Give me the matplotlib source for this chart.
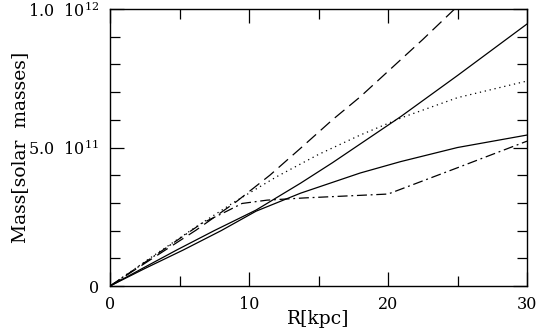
import numpy as np
import matplotlib
matplotlib.use("Agg")
import matplotlib.pyplot as plt
from matplotlib.ticker import MultipleLocator

plt.rcParams['font.family'] = 'DejaVu Serif'
plt.rcParams['mathtext.fontset'] = 'dejavuserif'

# radius [kpc] and mass [1e11 solar masses]
r_dash = [0, 3, 6.2, 9.1, 11.5, 13.7, 16, 18, 20, 22.5, 25]
m_dash = [0, 0.98, 2.02, 3.05, 4.0, 4.97, 6.0, 6.83, 7.75, 8.9, 10.1]

r_solid1 = [0, 2.5, 4.8, 7.5, 10.5, 13.7, 16, 20.9, 25, 30]
m_solid1 = [0, 0.68, 1.3, 2.0, 2.74, 3.71, 4.45, 6.11, 7.6, 9.46]

r_solid2 = [0, 2.5, 5.27, 8, 10.5, 13.7, 18, 20.9, 25, 30]
m_solid2 = [0, 0.63, 1.3, 2.0, 2.7, 3.35, 4.08, 4.49, 5.0, 5.45]

r_dot = [0, 3, 6.2, 9, 12, 15, 18, 21, 25, 30]
m_dot = [0, 1.05, 2.14, 3.05, 3.95, 4.75, 5.45, 6.08, 6.8, 7.4]

r_dashdot = [0, 3, 6.6, 8.4, 9.5, 11.3, 14, 20, 25, 30]
m_dashdot = [0, 1.02, 2.26, 2.7, 2.98, 3.1, 3.18, 3.32, 4.27, 5.23]

fig = plt.figure(figsize=(5.38, 3.34), dpi=100)
ax = fig.add_axes([0.2045, 0.1437, 0.7751, 0.8293])

lw = 0.9
ax.plot(r_dash, m_dash, color='black', lw=lw, dashes=(10, 5))
ax.plot(r_solid1, m_solid1, color='black', lw=lw)
ax.plot(r_solid2, m_solid2, color='black', lw=lw)
ax.plot(r_dot, m_dot, color='black', lw=lw, dashes=(1, 3))
ax.plot(r_dashdot, m_dashdot, color='black', lw=lw, dashes=(8, 3, 1.5, 3))

ax.set_xlim(0, 30)
ax.set_ylim(0, 10)

ax.xaxis.set_major_locator(MultipleLocator(10))
ax.xaxis.set_minor_locator(MultipleLocator(5))
ax.set_yticks([0, 5, 10])
ax.set_yticklabels(['0', r'5.0  $\mathregular{10^{11}}$', r'1.0  $\mathregular{10^{12}}$'])
ax.yaxis.set_minor_locator(MultipleLocator(1))

ax.tick_params(which='both', direction='in', top=True, right=True, labelsize=11.5, width=0.9)
ax.tick_params(axis='x', pad=7)
ax.tick_params(axis='y', pad=8)
ax.tick_params(which='major', length=10)
ax.tick_params(which='minor', length=7)
for s in ax.spines.values():
    s.set_linewidth(1.0)

ax.set_xlabel('R[kpc]', fontsize=13.5, va='center')
ax.xaxis.set_label_coords(0.5, -0.118)
ax.set_ylabel('Mass[solar  masses]', fontsize=13.5, va='center')
ax.yaxis.set_label_coords(-0.216, 0.5)

fig.savefig('out.png', dpi=100)
